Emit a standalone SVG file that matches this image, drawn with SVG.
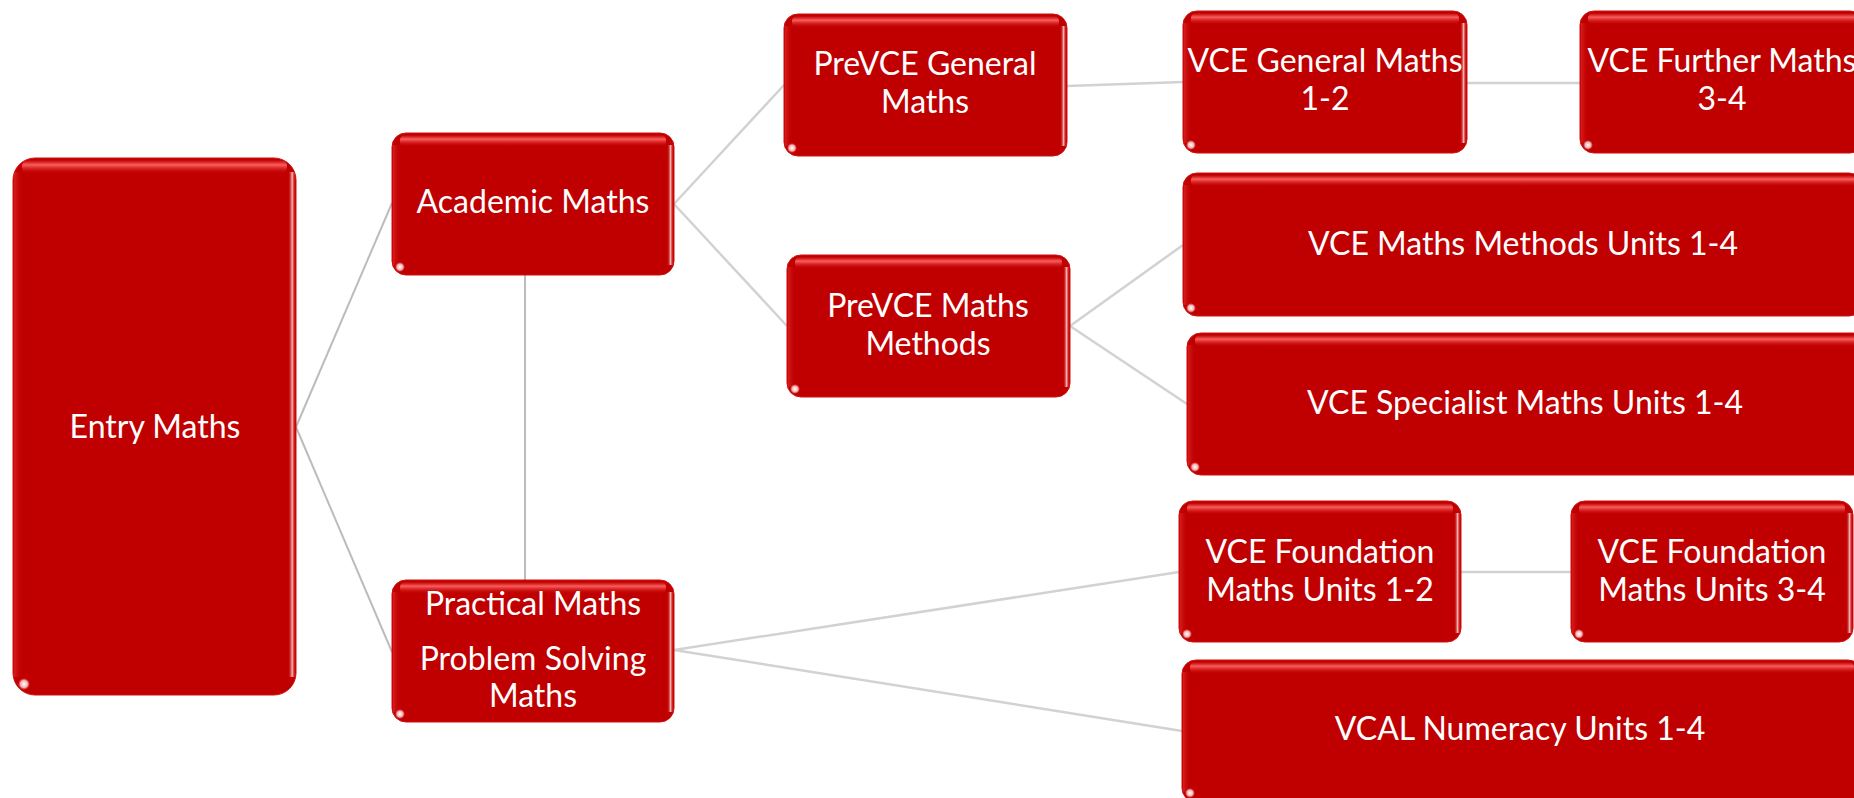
<svg xmlns="http://www.w3.org/2000/svg" width="1854" height="798" viewBox="0 0 1854 798">
<defs>
<linearGradient id="topGlow" x1="0" y1="0" x2="0" y2="1">
<stop offset="0" stop-color="#ff5a5a" stop-opacity="0"/>
<stop offset="0.35" stop-color="#ff6a6a" stop-opacity="0.9"/>
<stop offset="0.6" stop-color="#f04040" stop-opacity="0.55"/>
<stop offset="1" stop-color="#c00000" stop-opacity="0"/>
</linearGradient>
<linearGradient id="leftGlow" x1="0" y1="0" x2="1" y2="0">
<stop offset="0" stop-color="#e83030" stop-opacity="0.6"/>
<stop offset="1" stop-color="#c00000" stop-opacity="0"/>
</linearGradient>
<linearGradient id="rightGlow" x1="0" y1="0" x2="1" y2="0">
<stop offset="0" stop-color="#c00000" stop-opacity="0"/>
<stop offset="0.6" stop-color="#ffd0d0" stop-opacity="0.9"/>
<stop offset="1" stop-color="#e02020" stop-opacity="0.3"/>
</linearGradient>
<radialGradient id="spot" cx="0.5" cy="0.5" r="0.5">
<stop offset="0" stop-color="#ffffff" stop-opacity="1"/>
<stop offset="0.6" stop-color="#ffe0e0" stop-opacity="0.8"/>
<stop offset="1" stop-color="#ff8080" stop-opacity="0"/>
</radialGradient>
<style>
.box{fill:#c00000;stroke:#d01010;stroke-width:1}
.tg{fill:url(#topGlow)}
.lg{fill:url(#leftGlow)}
.rg{fill:url(#rightGlow)}
.sp{fill:url(#spot)}
.t{font-family:Lato,"Liberation Sans",sans-serif;font-size:32px;fill:#ffffff;text-anchor:middle}
.c1{stroke:#bcbcbc;stroke-width:2;fill:none}
.c2{stroke:#d2d2d2;stroke-width:2.5;fill:none}
</style>
</defs>
<rect width="1854" height="798" fill="#ffffff"/>

<g id="connectors">
<line class="c1" x1="296" y1="427" x2="392" y2="203"/>
<line class="c1" x1="296" y1="427" x2="392" y2="652"/>
<line class="c1" x1="525" y1="275" x2="525" y2="587"/>
<line class="c2" x1="674" y1="204" x2="784" y2="85"/>
<line class="c2" x1="674" y1="204" x2="787" y2="326"/>
<line class="c2" x1="1067" y1="86" x2="1183" y2="82"/>
<line class="c2" x1="1467" y1="83" x2="1580" y2="83"/>
<line class="c2" x1="1070" y1="326" x2="1183" y2="245"/>
<line class="c2" x1="1070" y1="326" x2="1187" y2="404"/>
<line class="c2" x1="674" y1="650" x2="1179" y2="572"/>
<line class="c2" x1="674" y1="650" x2="1182" y2="731"/>
<line class="c2" x1="1461" y1="572" x2="1571" y2="572"/>
</g>

<g id="entry">
<rect class="box" x="13" y="158" width="283" height="537" rx="22"/>
<rect class="tg" x="22" y="160" width="265" height="14" rx="6"/>
<rect class="lg" x="14" y="172" width="9" height="505"/>
<rect class="rg" x="288" y="172" width="7" height="505"/>
<circle class="sp" cx="24" cy="684" r="6"/>
<text class="t" x="155" y="438">Entry Maths</text>
</g>

<g id="academic">
<rect class="box" x="392" y="133" width="282" height="142" rx="14"/>
<rect class="tg" x="400" y="135" width="266" height="12" rx="5"/>
<rect class="lg" x="393" y="145" width="8" height="120"/>
<rect class="rg" x="667" y="145" width="6" height="120"/>
<circle class="sp" cx="400" cy="267" r="5"/>
<text class="t" x="533" y="213">Academic Maths</text>
</g>

<g id="practical">
<rect class="box" x="392" y="580" width="282" height="142" rx="14"/>
<rect class="tg" x="400" y="582" width="266" height="12" rx="5"/>
<rect class="lg" x="393" y="592" width="8" height="120"/>
<rect class="rg" x="667" y="592" width="6" height="120"/>
<circle class="sp" cx="400" cy="714" r="5"/>
<text class="t" x="533" y="615">Practical Maths</text>
<text class="t" x="533" y="670">Problem Solving</text>
<text class="t" x="533" y="707">Maths</text>
</g>

<g id="prevce-general">
<rect class="box" x="784" y="14" width="283" height="142" rx="14"/>
<rect class="tg" x="792" y="16" width="267" height="12" rx="5"/>
<rect class="lg" x="785" y="26" width="8" height="120"/>
<rect class="rg" x="1060" y="26" width="6" height="120"/>
<circle class="sp" cx="792" cy="148" r="5"/>
<text class="t" x="925" y="75">PreVCE General</text>
<text class="t" x="925" y="113">Maths</text>
</g>

<g id="prevce-methods">
<rect class="box" x="787" y="255" width="283" height="142" rx="14"/>
<rect class="tg" x="795" y="257" width="267" height="12" rx="5"/>
<rect class="lg" x="788" y="267" width="8" height="120"/>
<rect class="rg" x="1063" y="267" width="6" height="120"/>
<circle class="sp" cx="795" cy="389" r="5"/>
<text class="t" x="928" y="317">PreVCE Maths</text>
<text class="t" x="928" y="355">Methods</text>
</g>

<g id="vce-general">
<rect class="box" x="1183" y="11" width="284" height="142" rx="14"/>
<rect class="tg" x="1191" y="13" width="268" height="12" rx="5"/>
<rect class="lg" x="1184" y="23" width="8" height="120"/>
<rect class="rg" x="1460" y="23" width="6" height="120"/>
<circle class="sp" cx="1191" cy="145" r="5"/>
<text class="t" x="1325" y="72">VCE General Maths</text>
<text class="t" x="1325" y="110">1-2</text>
</g>

<g id="vce-further">
<rect class="box" x="1580" y="11" width="284" height="142" rx="14"/>
<rect class="tg" x="1588" y="13" width="268" height="12" rx="5"/>
<rect class="lg" x="1581" y="23" width="8" height="120"/>
<circle class="sp" cx="1588" cy="145" r="5"/>
<text class="t" x="1722" y="72">VCE Further Maths</text>
<text class="t" x="1722" y="110">3-4</text>
</g>

<g id="vce-methods">
<rect class="box" x="1183" y="173" width="680" height="143" rx="14"/>
<rect class="tg" x="1191" y="175" width="664" height="12" rx="5"/>
<rect class="lg" x="1184" y="185" width="8" height="120"/>
<circle class="sp" cx="1191" cy="308" r="5"/>
<text class="t" x="1523" y="255">VCE Maths Methods Units 1-4</text>
</g>

<g id="vce-specialist">
<rect class="box" x="1187" y="333" width="680" height="142" rx="14"/>
<rect class="tg" x="1195" y="335" width="664" height="12" rx="5"/>
<rect class="lg" x="1188" y="345" width="8" height="120"/>
<circle class="sp" cx="1195" cy="467" r="5"/>
<text class="t" x="1525" y="414">VCE Specialist Maths Units 1-4</text>
</g>

<g id="vce-foundation-12">
<rect class="box" x="1179" y="501" width="282" height="141" rx="14"/>
<rect class="tg" x="1187" y="503" width="266" height="12" rx="5"/>
<rect class="lg" x="1180" y="513" width="8" height="120"/>
<rect class="rg" x="1454" y="513" width="6" height="120"/>
<circle class="sp" cx="1187" cy="634" r="5"/>
<text class="t" x="1320" y="563">VCE Foundation</text>
<text class="t" x="1320" y="601">Maths Units 1-2</text>
</g>

<g id="vce-foundation-34">
<rect class="box" x="1571" y="501" width="282" height="141" rx="14"/>
<rect class="tg" x="1579" y="503" width="266" height="12" rx="5"/>
<rect class="lg" x="1572" y="513" width="8" height="120"/>
<rect class="rg" x="1846" y="513" width="6" height="120"/>
<circle class="sp" cx="1579" cy="634" r="5"/>
<text class="t" x="1712" y="563">VCE Foundation</text>
<text class="t" x="1712" y="601">Maths Units 3-4</text>
</g>

<g id="vcal-numeracy">
<rect class="box" x="1182" y="660" width="680" height="142" rx="14"/>
<rect class="tg" x="1190" y="662" width="664" height="12" rx="5"/>
<rect class="lg" x="1183" y="672" width="8" height="120"/>
<circle class="sp" cx="1190" cy="793" r="5"/>
<text class="t" x="1520" y="740">VCAL Numeracy Units 1-4</text>
</g>
</svg>
